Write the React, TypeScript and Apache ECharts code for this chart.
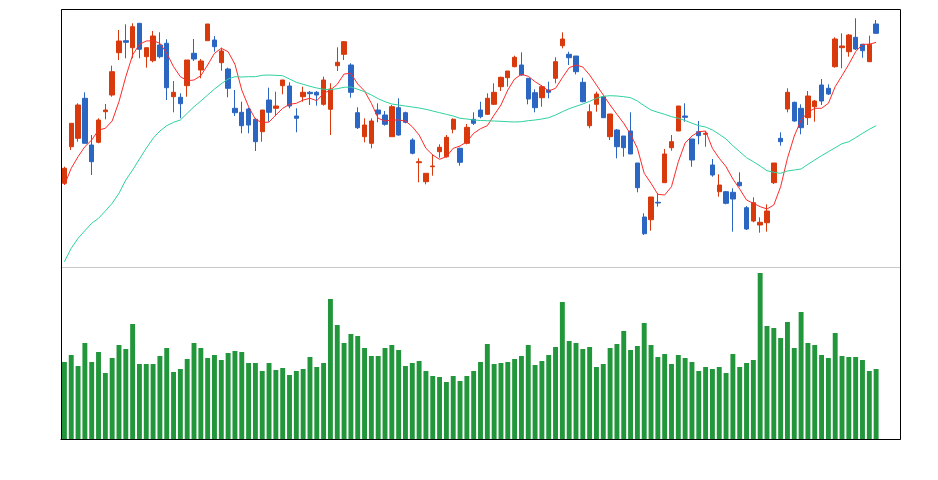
import React, { useEffect, useRef } from "react";
import * as echarts from "echarts";

// 123 category slots, 120 trading days drawn
const categories: string[] = Array.from({ length: 123 }, (_, i) => `D${i + 1}`);

const opens = [
  83.7, 120.3, 128.7, 168.7, 122, 124.7, 155.3, 172, 214.3, 226.3,
  219.3, 243.7, 210.3, 206.3, 222, 223.7, 170.3, 169.7, 181.3, 213.7,
  197, 226.3, 227, 204.3, 198, 158.7, 154.7, 158, 147.7, 135.3,
  167, 158.7, 181.3, 181, 151, 170.3, 174.7, 174.7, 162.7, 157.7,
  201.3, 212.7, 202, 154.3, 130.3, 123.7, 157, 152, 130.3, 159.3,
  154.3, 127, 104.3, 85.3, 100.3, 115.3, 110.3, 137.7, 118.7, 123.7,
  147.7, 157, 152.7, 162.7, 180.3, 189.3, 200.3, 202, 188.7, 174.3,
  169.3, 177, 188.7, 221.3, 212.7, 211, 184.7, 141.3, 162.7, 170.3,
  130.3, 137, 131, 136, 104, 50, 47.3, 64.7, 84.3, 119.3,
  136, 151, 128, 135.3, 132.7, 102, 75.3, 75.3, 74.7, 84.7,
  59.3, 46, 42, 44.3, 84.3, 128.7, 158, 164.7, 158.7, 149.3,
  160.3, 182, 178.7, 200.3, 219.3, 215.3, 229.7, 222.7, 205.3, 243,
];

const closes = [
  98.7, 143.7, 162, 123.7, 105.3, 147, 157, 195.3, 226, 224.7,
  240.3, 217.7, 219.3, 231, 210.3, 179.3, 174.7, 163.3, 207, 208,
  206, 243, 220.3, 216, 178.7, 154.3, 141.3, 142, 125.3, 157,
  154.7, 161, 187, 161, 148.7, 174.7, 173.3, 172, 187, 178,
  204.7, 225.3, 174.7, 139.3, 142, 146, 153, 142.7, 160.3, 132,
  144.7, 113.7, 105.3, 93.7, 101, 119.7, 129.7, 147.7, 104.7, 139.7,
  143.7, 150.3, 168.7, 174.7, 189.7, 196, 209.7, 192, 168, 159.3,
  180.3, 174.7, 205.3, 228, 209.3, 195.3, 165.3, 155.3, 173, 149.3,
  153, 120.3, 119.3, 113, 79.3, 33.3, 70, 64, 113, 125.3,
  161, 149.7, 107, 131.3, 133.7, 92, 82, 63.7, 68, 81.3,
  38, 64.3, 44.7, 56, 104, 125.3, 174.7, 146, 139.3, 171,
  166, 166, 173, 228, 221, 232, 218, 216.3, 222.7, 233.7,
];

const lows = [
  82, 117, 125.3, 123.7, 92, 123.7, 147.7, 170.3, 207, 208.7,
  208.7, 208.7, 199.3, 204.7, 208.7, 167, 154.7, 148.7, 170.3, 206,
  188.7, 226.3, 215.3, 196.3, 169.7, 151, 133.7, 133.7, 116, 125.3,
  145.3, 151, 172.7, 158.7, 134.7, 165.3, 162, 161.3, 161.3, 132,
  196, 207, 169.3, 138, 124.7, 118.7, 144.7, 141.3, 130.3, 131.3,
  143.7, 112.7, 84.7, 82.7, 91.3, 109.3, 109.3, 133.7, 101.3, 122.7,
  142, 148.7, 152, 162, 176, 180.3, 199.7, 191.3, 162.7, 154.7,
  160.3, 168.7, 183.7, 218.7, 202, 192.7, 164.7, 138.7, 155.3, 149.3,
  127, 108.7, 110.3, 113, 74.7, 32, 36.3, 60.3, 84.3, 116.3,
  136, 145.3, 100.3, 122.7, 120.3, 90.3, 70.3, 62.7, 35.3, 80.3,
  37, 44.7, 34.3, 35.3, 83, 121.3, 154.7, 145.3, 132.7, 142,
  145.3, 162, 172, 199.3, 198.7, 210.3, 217, 209.3, 205.3, 233,
];

const highs = [
  100.3, 144, 163.7, 174.7, 132, 148.7, 163, 201.3, 237, 242.7,
  243.7, 243.7, 219.3, 236, 234.7, 227.7, 186, 173.7, 207, 228,
  208, 243, 231, 219.3, 199.3, 177, 165.3, 159.3, 148.7, 157,
  179.3, 175.3, 187, 184.7, 158.7, 180.3, 176, 176, 190.3, 183.7,
  219.7, 226, 203.7, 159.7, 148.7, 148.7, 163.7, 156, 162, 168.7,
  155.3, 128.7, 108.7, 93.7, 112.7, 122.7, 132, 148.7, 119.3, 143,
  154.7, 165.3, 173.7, 183.7, 190.3, 196, 211.3, 214.7, 188.7, 177.7,
  182, 185.3, 209.7, 234.7, 215.3, 211, 189.3, 162.7, 175.3, 171.3,
  153, 138, 131, 154.7, 104, 53.7, 70, 73.7, 118, 132,
  161, 163.7, 128, 146, 136, 108, 92.7, 76, 78.7, 94.7,
  61, 69.7, 49.7, 62.7, 104, 134.7, 178.7, 165.3, 162.7, 176,
  167, 188, 182.7, 229.7, 233.7, 233, 248.7, 222.7, 231.3, 247,
];

const ma5 = [
  82, 98.7, 110.3, 120.3, 127, 137, 138.7, 146, 165.3, 190.3,
  212, 222.7, 226, 226.3, 223.7, 213.7, 200.3, 190.3, 186.3, 187,
  191.3, 202, 213.7, 218.7, 215.3, 202.7, 177, 160.3, 147.7, 144.3,
  145, 152, 158.7, 162.7, 163.7, 167, 168.7, 166.3, 173.7, 177,
  182.7, 193, 193.7, 183, 176, 163.7, 148.7, 146, 147, 147,
  146, 140.3, 132, 118.7, 112, 107.7, 110.3, 118.7, 121, 125.3,
  133.7, 138.3, 141.3, 152, 162, 177, 188, 192.7, 190.7, 185.3,
  181, 176, 178.7, 189.3, 199.3, 202, 200, 192, 182, 172,
  162, 152.7, 143.7, 132.7, 118.7, 93.7, 83.7, 72.7, 72, 80.3,
  105.3, 124, 131, 135.3, 136, 118.7, 108.7, 100.3, 88, 78,
  67, 63.7, 60.3, 58, 62, 80.3, 108.7, 131, 147, 154.7,
  158.7, 158.7, 163.7, 180.3, 191.3, 202.7, 215.3, 222.7, 222.7, 224.7,
];

const ma30 = [
  5.3, 18.7, 28.7, 36.3, 43.7, 48.7, 56, 63.7, 73.7, 87,
  97, 108, 118.7, 128.7, 136, 141.3, 144.7, 147, 153.7, 160.3,
  166, 172, 178, 183.3, 188, 190.3, 190, 190.3, 190.3, 191.7,
  192, 191.7, 191.3, 188, 184.7, 182.7, 180.7, 179, 177.7, 177.3,
  178.3, 179.7, 180, 177.7, 175.3, 172, 168.3, 165.3, 163, 162,
  161, 160, 159, 157.7, 156, 154.3, 152.7, 151, 148.7, 148,
  147, 146.5, 146.3, 146, 145.7, 145.3, 145, 145.3, 146.3, 147,
  148, 149.3, 152, 155.3, 158.3, 160.7, 163, 165.7, 168.7, 170.7,
  171.3, 171, 170.3, 169.3, 166, 161.3, 157, 154.7, 152.7, 150.3,
  148.7, 146.5, 143.8, 141.3, 140, 137, 132.7, 128, 121.3, 115.3,
  109.3, 105.3, 101, 96.3, 94.7, 93.7, 96, 97, 98, 102.7,
  107, 111.3, 115.3, 119.3, 123.3, 125.3, 129.3, 133.7, 137.7, 141.3,
];

const volumes = [
  77, 84, 73, 96, 77, 87, 66, 81, 94, 90,
  115, 75, 75, 75, 83, 91, 67, 70, 80, 96,
  91, 81, 84, 79, 86, 88, 87, 76, 76, 68,
  76, 69, 71, 64, 68, 70, 82, 72, 76, 140,
  114, 96, 105, 103, 91, 83, 83, 91, 94, 89,
  73, 76, 78, 68, 63, 62, 57, 63, 58, 63,
  68, 77, 95, 75, 76, 77, 80, 83, 94, 74,
  78, 84, 92, 137, 98, 96, 90, 92, 72, 75,
  91, 95, 108, 89, 93, 116, 94, 82, 85, 75,
  84, 81, 77, 68, 72, 70, 72, 66, 85, 72,
  76, 79, 166, 113, 111, 101, 117, 91, 127, 96,
  94, 84, 81, 106, 83, 82, 82, 79, 68, 70,
];

const UP = "#d8390d";
const DOWN = "#2b66c2";

export default function App() {
  const ref = useRef<HTMLDivElement>(null);

  useEffect(() => {
    if (!ref.current) return;
    const chart = echarts.init(ref.current, null, { renderer: "svg" });
    const candles = opens.map((o, i) => [o, closes[i], lows[i], highs[i]]);
    const hiddenAxis = {
      axisTick: { show: false },
      axisLabel: { show: false },
      splitLine: { show: false },
    };
    chart.setOption({
      animation: false,
      backgroundColor: "#fff",
      grid: [
        { left: 61, right: 38, top: 10, height: 257 },
        { left: 61, right: 38, top: 267, height: 172 },
      ],
      xAxis: [
        {
          type: "category",
          data: categories,
          gridIndex: 0,
          boundaryGap: true,
          axisLine: { show: true, lineStyle: { color: "#c8c8c8", width: 1 } },
          ...hiddenAxis,
        },
        {
          type: "category",
          data: categories,
          gridIndex: 1,
          boundaryGap: true,
          axisLine: { show: true, lineStyle: { color: "#000", width: 1 } },
          ...hiddenAxis,
        },
      ],
      yAxis: [
        {
          type: "value",
          gridIndex: 0,
          min: 0,
          max: 257,
          axisLine: { show: true, lineStyle: { color: "#000" } },
          ...hiddenAxis,
        },
        {
          type: "value",
          gridIndex: 1,
          min: 0,
          max: 172,
          axisLine: { show: true, lineStyle: { color: "#000" } },
          ...hiddenAxis,
        },
      ],
      graphic: [
        {
          type: "rect",
          silent: true,
          z: 100,
          shape: { x: 61.5, y: 9.5, width: 839, height: 430 },
          style: { fill: "transparent", stroke: "#000", lineWidth: 1 },
        },
      ],
      series: [
        {
          type: "candlestick",
          xAxisIndex: 0,
          yAxisIndex: 0,
          data: candles,
          barWidth: "72%",
          itemStyle: {
            color: UP,
            color0: DOWN,
            borderColor: UP,
            borderColor0: DOWN,
            borderWidth: 1,
          },
        },
        {
          type: "line",
          xAxisIndex: 0,
          yAxisIndex: 0,
          data: ma5,
          showSymbol: false,
          symbol: "none",
          lineStyle: { color: "#ff2a2a", width: 1 },
          z: 3,
        },
        {
          type: "line",
          xAxisIndex: 0,
          yAxisIndex: 0,
          data: ma30,
          showSymbol: false,
          symbol: "none",
          lineStyle: { color: "#2fd1a0", width: 1 },
          z: 3,
        },
        {
          type: "bar",
          xAxisIndex: 1,
          yAxisIndex: 1,
          data: volumes,
          barWidth: "72%",
          itemStyle: { color: "#22963a" },
        },
      ],
    });
    return () => chart.dispose();
  }, []);

  return (
    <div
      ref={ref}
      style={{ position: "absolute", left: 0, top: 0, width: 938, height: 480 }}
    />
  );
}
